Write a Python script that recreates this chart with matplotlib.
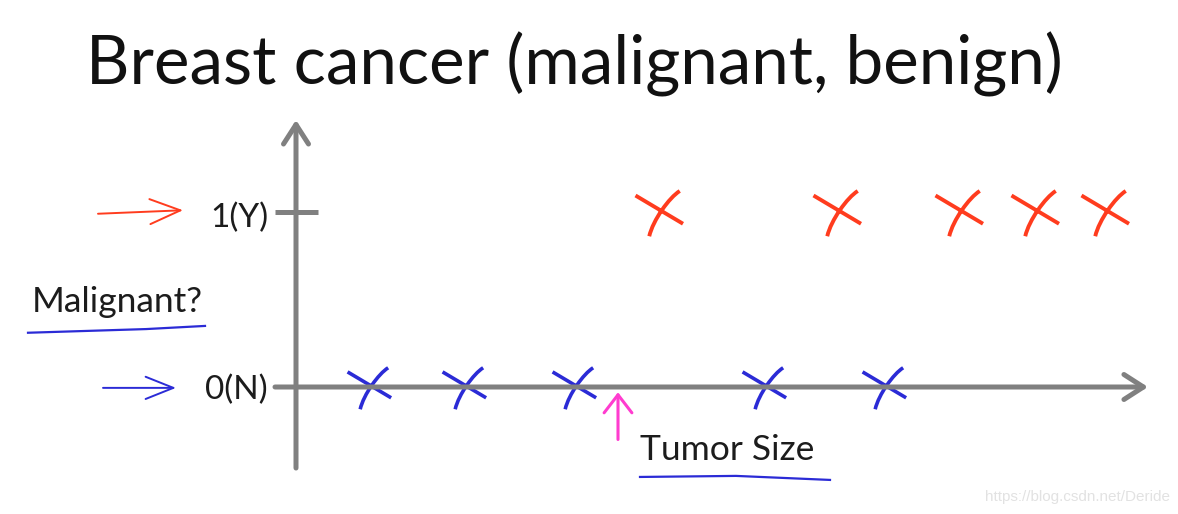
import matplotlib
matplotlib.use('Agg')
import matplotlib.pyplot as plt
from matplotlib.path import Path
from matplotlib.markers import MarkerStyle

# tumor sizes (arbitrary units) and labels
benign_size = [0.74, 1.69, 2.79, 4.69, 5.89]
malignant_size = [3.64, 5.42, 6.64, 7.40, 8.10]
benign_label = [0, 0, 0, 0, 0]
malignant_label = [1, 1, 1, 1, 1]
threshold = 3.22
ytick_labels = ['0(N)', '1(Y)']

GREY = '#808080'
RED = '#ff3c1e'
BLUE = '#2b2bd6'
PINK = '#ff3ccf'
INK = '#1c1c1c'

# hand drawn cross: straight stroke + curved stroke
cross = Path(
    [(-1.0, 0.68), (0.9, -0.45),
     (0.77, 0.86), (0.35, 0.6), (-0.3, -0.3), (-0.45, -0.95)],
    [Path.MOVETO, Path.LINETO,
     Path.MOVETO, Path.CURVE4, Path.CURVE4, Path.CURVE4])
cross_marker = MarkerStyle(cross)

fig = plt.figure(figsize=(11.78, 5.14), dpi=100)
ax = fig.add_axes([0, 0, 1, 1])
ax.set_xlim(-2.96, 8.82)
ax.set_ylim(-0.7257, 2.2114)
ax.axis('off')

# axes drawn as grey arrows
ax.annotate('', xy=(0, 1.526), xytext=(0, -0.463),
            arrowprops=dict(arrowstyle='->, head_length=1.4, head_width=0.9',
                            lw=3.6, color=GREY, shrinkA=0, shrinkB=0))
ax.annotate('', xy=(8.52, 0), xytext=(-0.21, 0),
            arrowprops=dict(arrowstyle='->, head_length=1.4, head_width=0.9',
                            lw=3.6, color=GREY, shrinkA=0, shrinkB=0))
ax.plot([-0.21, 0.22], [1, 1], color=GREY, lw=3.6, solid_capstyle='butt')

ax.text(-0.28, 0.966, ytick_labels[1], ha='right', va='center',
        fontsize=24, family='Lato', color=INK)
ax.text(-0.28, -0.017, ytick_labels[0], ha='right', va='center',
        fontsize=24, family='Lato', color=INK)

ax.plot(malignant_size, malignant_label, linestyle='none', marker=cross_marker,
        ms=36, mfc='none', mec=RED, mew=2.8)
ax.plot(benign_size, benign_label, linestyle='none', marker=cross_marker,
        ms=33, mfc='none', mec=BLUE, mew=2.6)

# threshold arrow
ax.annotate('', xy=(threshold, -0.03), xytext=(threshold, -0.3),
            arrowprops=dict(arrowstyle='->, head_length=1.3, head_width=1.0',
                            lw=2.2, color=PINK, shrinkA=0, shrinkB=0))

fig.text(0.488, 0.875, 'Breast cancer (malignant, benign)', ha='center',
         va='center', fontsize=48.5, family='Lato', color='#111111')
ax.text(-2.64, 0.486, 'Malignant?', ha='left', va='center',
        fontsize=25.5, family='Lato', color=INK)
ax.plot([-2.68, -1.5, -0.91], [0.31, 0.331, 0.349], color=BLUE, lw=1.6)
ax.text(3.44, -0.36, 'Tumor Size', ha='left', va='center',
        fontsize=25.5, family='Lato', color=INK)
ax.plot([3.44, 4.4, 5.34], [-0.514, -0.508, -0.531], color=BLUE, lw=1.6)

# hand drawn pointers to the two classes
ax.annotate('', xy=(-1.13, 1.01), xytext=(-1.98, 0.99),
            arrowprops=dict(arrowstyle='->, head_length=2.2, head_width=0.9',
                            lw=1.4, color=RED, shrinkA=0, shrinkB=0))
ax.annotate('', xy=(-1.2, -0.005), xytext=(-1.93, -0.005),
            arrowprops=dict(arrowstyle='->, head_length=2.0, head_width=0.8',
                            lw=1.4, color=BLUE, shrinkA=0, shrinkB=0))

fig.text(0.993, 0.033, 'https://blog.csdn.net/Deride', ha='right',
         va='center', fontsize=11, family='Liberation Sans', color='#e2e2e2')

fig.savefig('out.png', dpi=100)
